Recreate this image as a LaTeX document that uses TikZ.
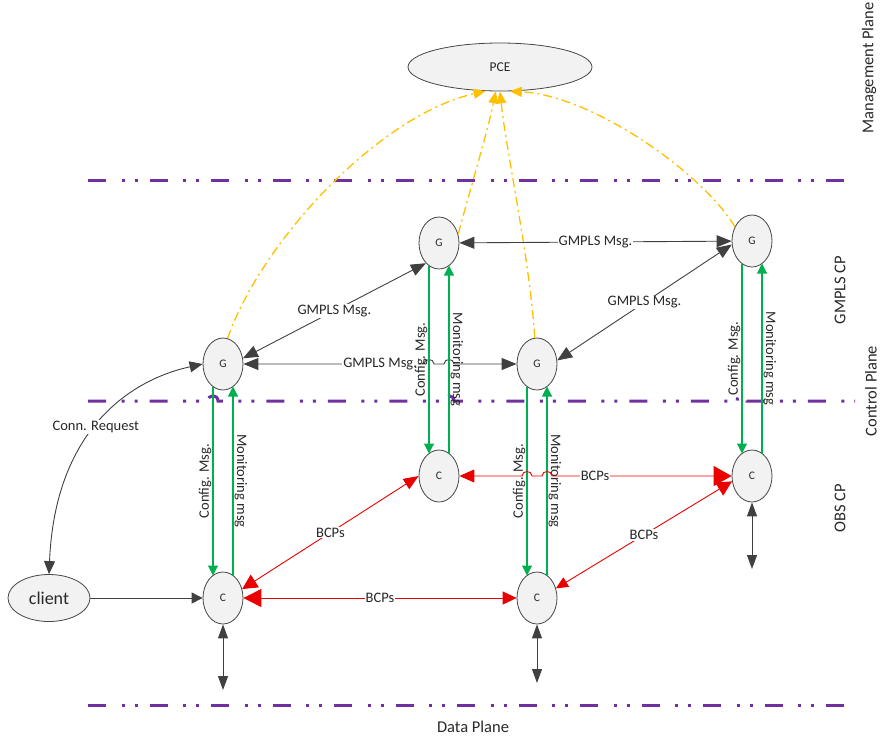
\documentclass[tikz,border=0pt]{standalone}
\usepackage{fontspec}
\setmainfont{Carlito}
\usetikzlibrary{arrows.meta,shapes.geometric,calc}
\definecolor{pur}{RGB}{112,48,160}
\definecolor{grn}{RGB}{0,176,80}
\definecolor{rd}{RGB}{235,0,0}
\definecolor{ylw}{RGB}{255,192,0}
\definecolor{dk}{RGB}{64,64,64}
\definecolor{txt}{RGB}{40,40,40}
\begin{document}
\begin{tikzpicture}[x=1pt,y=-1pt,
  nd/.style={ellipse, draw=gray!55!black, fill=gray!10, line width=0.8pt, inner sep=0pt,
    minimum width=40pt, minimum height=52pt, font=\fontsize{11.5}{12}\selectfont, text=txt},
  lbl/.style={fill=white, inner sep=1pt, font=\fontsize{14.5}{15}\selectfont, text=txt},
  side/.style={inner sep=0pt, font=\fontsize{16.5}{17}\selectfont, text=txt},
  cfgl/.style={midway, rotate=90, anchor=south, inner sep=1pt, font=\fontsize{14.5}{15}\selectfont, text=txt},
  monl/.style={midway, rotate=-90, anchor=south, inner sep=1pt, font=\fontsize{14.5}{15}\selectfont, text=txt},
  plane/.style={draw=pur, line width=3pt, dash pattern=on 18pt off 15.5pt on 3pt off 10pt on 3pt off 12pt},
  gm/.style={draw=dk, line width=0.9pt, {Triangle[length=15pt,width=12pt]}-{Triangle[length=15pt,width=12pt]}},
  blk/.style={draw=dk, line width=0.9pt, -{Triangle[length=11pt,width=11pt]}},
  blkd/.style={draw=dk, line width=1pt, {Triangle[length=14pt,width=10pt]}-{Triangle[length=14pt,width=10pt]}},
  cfg/.style={draw=grn, line width=1.1pt, -{Triangle[length=10pt,width=10pt]}},
  bcp/.style={draw=rd, line width=0.9pt},
  pce/.style={draw=ylw, line width=1.3pt, dash pattern=on 9pt off 4pt on 2pt off 4pt, -{Triangle[length=12pt,width=10pt]}}
]
\useasboundingbox (0,0) rectangle (883,742);

% planes
\draw[plane] (88,180) -- (855,180);
\draw[plane] (88,401) -- (208,401) .. controls +(0,-7) and +(0,-7) .. (218,401)
  -- (444,401) .. controls +(0,-7) and +(0,-7) .. (454,401)
  -- (737,401) .. controls +(0,-7) and +(0,-7) .. (747,401) -- (855,401);
\draw[plane] (88,705) -- (855,705);

\node[side, rotate=90] (mp) at (869,68) {Management Plane};
\node[side, rotate=90] (gcp) at (840,290) {GMPLS CP};
\node[side, rotate=90] (cp) at (871,391) {Control Plane};
\node[side, rotate=90] (ocp) at (840,508) {OBS CP};
\node[side] (dp) at (473,727) {Data Plane};

% nodes
\node[nd, minimum width=184pt, minimum height=48pt, font=\fontsize{13.5}{14}\selectfont] (PCE) at (500,67) {PCE};
\node[nd] (G1) at (223,364) {G};
\node[nd] (C1) at (223,598) {C};
\node[nd] (G2) at (439,243) {G};
\node[nd] (C2) at (439,476) {C};
\node[nd] (G3) at (537,364) {G};
\node[nd] (C3) at (537,598) {C};
\node[nd] (G4) at (752,241) {G};
\node[nd] (C4) at (752,476) {C};
\node[nd, minimum width=82pt, minimum height=47pt, font=\fontsize{18}{19}\selectfont] (client) at (49,598) {client};

\coordinate (c1d) at (223,690);
\coordinate (c3d) at (537,683);
\coordinate (c4d) at (752,569);

% yellow to PCE
\draw[pce] (G1.80) .. controls (262,240) and (380,115) .. (PCE.239);
\draw[pce] (G2.25) .. controls (470,190) and (488,130) .. (PCE.260);
\draw[pce] (G3.95) .. controls (530,260) and (506,150) .. (PCE.270);
\draw[pce] (G4.140) .. controls (700,170) and (590,95) .. (PCE.292);

% GMPLS
\draw[gm] (G1.16) -- node[lbl, midway] (l1) {GMPLS Msg.} (G2.237);
\draw[gm] (G1) -- node[lbl, pos=0.757] (l2) {GMPLS Msg.} (424,364)
  .. controls +(0,-6) and +(0,-6) .. (434,364) -- (444,364)
  .. controls +(0,-6) and +(0,-6) .. (454,364) -- (G3);
\draw[gm] (G2) -- node[lbl, midway] (l3) {GMPLS Msg.} (G4);
\draw[gm] (G3.10) -- node[lbl, midway] (l4) {GMPLS Msg.} (G4.190);

% green config / monitoring
\draw[cfg] ($(G1)+(-10,22.5)$) -- node[cfgl] (cf1) {Config. Msg.} ($(C1)+(-10,-22.5)$);
\draw[cfg] ($(C1)+(10,-22.5)$) -- node[monl] (mo1) {Monitoring msg} ($(G1)+(10,22.5)$);
\draw[cfg] ($(G2)+(-10,22.5)$) -- node[cfgl] (cf2) {Config. Msg.} ($(C2)+(-10,-22.5)$);
\draw[cfg] ($(C2)+(10,-22.5)$) -- node[monl] (mo2) {Monitoring msg} ($(G2)+(10,22.5)$);
\draw[cfg] ($(G3)+(-10,22.5)$) -- node[cfgl] (cf3) {Config. Msg.} ($(C3)+(-10,-22.5)$);
\draw[cfg] ($(C3)+(10,-22.5)$) -- node[monl] (mo3) {Monitoring msg} ($(G3)+(10,22.5)$);
\draw[cfg] ($(G4)+(-10,22.5)$) -- node[cfgl] (cf4) {Config. Msg.} ($(C4)+(-10,-22.5)$);
\draw[cfg] ($(C4)+(10,-22.5)$) -- node[monl] (mo4) {Monitoring msg} ($(G4)+(10,22.5)$);

% BCPs
\draw[bcp, {Triangle[length=18pt,width=18pt]}-{Triangle[length=14pt,width=13pt]}] (C1) -- node[lbl, midway] (b1) {BCPs} (C3);
\draw[bcp, {Triangle[length=15pt,width=15pt]}-{Triangle[length=15pt,width=12pt]}] (C1.25) -- node[lbl, midway] (b2) {BCPs} (C2.west);
\draw[bcp, {Triangle[length=15pt,width=13pt]}-{Triangle[length=18pt,width=20pt]}] (C2) -- (522,476)
  .. controls +(0,-6) and +(0,-6) .. (532,476) -- (542,476)
  .. controls +(0,-6) and +(0,-6) .. (552,476) -- node[lbl, pos=0.24] (b3) {BCPs} (C4);
\draw[bcp, {Triangle[length=12pt,width=11pt]}-{Triangle[length=15pt,width=15pt]}] (C3.27) -- node[lbl, midway] (b4) {BCPs} (C4.195);

% black
\draw[blk] (client) -- (C1);
\draw[blkd] (C1) -- (c1d);
\draw[blkd] (C3) -- (c3d);
\draw[blkd] (C4) -- (c4d);
\draw[draw=dk, line width=0.9pt, {Triangle[length=13pt,width=11pt]}-{Triangle[length=13pt,width=11pt]}]
  (client.north) .. controls (55,430) and (130,380) .. node[lbl, pos=0.47] (cr) {Conn. Request} (G1.west);
\end{tikzpicture}
\end{document}
